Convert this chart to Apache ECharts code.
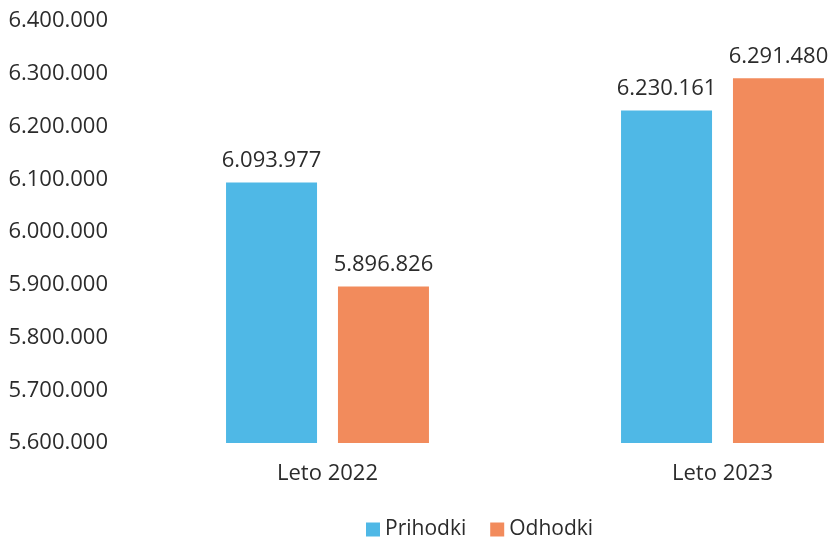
<!DOCTYPE html>
<html>
<head>
<meta charset="utf-8">
<script src="https://cdn.jsdelivr.net/npm/echarts@6/dist/echarts.min.js"></script>
<style>
  html, body { margin: 0; padding: 0; background: #fff; }
  #chart { width: 834px; height: 539px; }
</style>
</head>
<body>
<div id="chart"></div>
<script>
const categories = ['Leto 2022', 'Leto 2023']
const prihodki = [6093977, 6230161]
const odhodki = [5896826, 6291480]

// slovenian style thousands: 6.400.000
const fmt = (v) => String(Math.round(v)).replace(/\B(?=(\d{3})+(?!\d))/g, '.')

const font = '"Open Sans", sans-serif'
const txt = '#2b2b2b'

const chart = echarts.init(document.getElementById('chart'))
chart.setOption({
  animation: false,
  textStyle: { fontFamily: font },
  legend: {
    bottom: -6,
    left: 361,
    icon: 'rect',
    itemWidth: 14,
    itemHeight: 14,
    itemGap: 24,
    textStyle: { fontSize: 21, color: txt, fontFamily: font },
    data: ['Prihodki', 'Odhodki']
  },
  grid: {
    left: 130,
    top: 21,
    width: 790,
    bottom: 96,
    outerBoundsMode: 'none'
  },
  xAxis: {
    type: 'category',
    data: categories,
    axisLine: { show: false },
    axisTick: { show: false },
    axisLabel: { fontSize: 22, color: txt, margin: 20, fontFamily: font }
  },
  yAxis: {
    type: 'value',
    min: 5600000,
    max: 6400000,
    interval: 100000,
    splitLine: { show: false },
    axisLabel: {
      fontSize: 22,
      color: txt,
      margin: 22,
      fontFamily: font,
      formatter: fmt
    }
  },
  series: [
    {
      name: 'Prihodki',
      type: 'bar',
      data: prihodki,
      barWidth: 91,
      barGap: '23%',
      itemStyle: { color: '#4fb8e6' },
      label: {
        show: true,
        position: 'top',
        distance: 11,
        fontSize: 22,
        color: txt,
        fontFamily: font,
        formatter: (p) => fmt(p.value)
      }
    },
    {
      name: 'Odhodki',
      type: 'bar',
      data: odhodki,
      barWidth: 91,
      itemStyle: { color: '#f28b5c' },
      label: {
        show: true,
        position: 'top',
        distance: 11,
        fontSize: 22,
        color: txt,
        fontFamily: font,
        formatter: (p) => fmt(p.value)
      }
    }
  ]
})
</script>
</body>
</html>
